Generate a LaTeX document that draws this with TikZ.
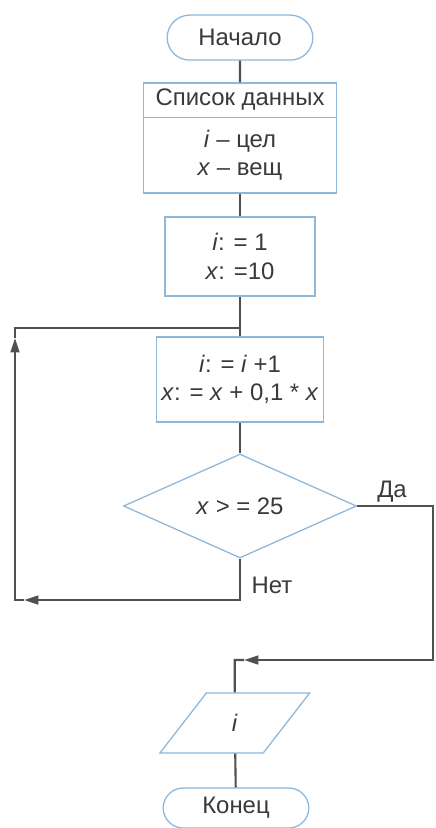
\documentclass[tikz,border=0pt]{standalone}
\usepackage{fontspec}
\setmainfont{Liberation Sans}
\usetikzlibrary{positioning,shapes.geometric,shapes.misc,arrows.meta}
\definecolor{shapeblue}{HTML}{8DB8DC}
\definecolor{linegray}{HTML}{505050}
\definecolor{textgray}{HTML}{3A3A3A}
\tikzset{
  fcterm/.style={draw=shapeblue, line width=0.9pt, rounded rectangle, minimum width=3.875cm, minimum height=1.125cm},
  fcblock/.style={draw=shapeblue, line width=0.9pt, rectangle, align=center},
  fcdecision/.style={draw=shapeblue, line width=0.9pt, diamond, minimum width=5.825cm, minimum height=2.175cm, inner sep=0pt},
  fcio/.style={draw=shapeblue, line width=0.9pt, trapezium, trapezium left angle=65, trapezium right angle=115, trapezium stretches=true, minimum width=3.75cm, minimum height=1.5cm},
  link/.style={draw=linegray, line width=1.5pt},
  linkarrow/.style={link, -{Triangle[length=3.6mm, width=2.2mm, fill=linegray]}}
}

\begin{document}
\begin{tikzpicture}[font=\fontsize{17}{20}\selectfont, text=textgray]
  \useasboundingbox[fill=white] (0,0) rectangle (10.875,-20.7);

  \node[fcterm] (start) at (6.0,-0.94) {Начало};
  \node[fcblock, minimum width=4.825cm, minimum height=2.75cm] (data) at (6.0,-3.45) {};
  \node[minimum height=0.85cm, inner sep=0pt] (datahead) at (6.0,-2.5) {Список данных};
  \node[align=center] (datavars) at (6.0,-3.875) {\textit{i} – цел\\\textit{x} – вещ};
  \draw[draw=shapeblue, line width=0.9pt] (data.west |- datahead.south) -- (data.east |- datahead.south);

  \node[fcblock, minimum width=3.75cm, minimum height=1.975cm] (init) at (6.0,-6.41) {\textit{i}: = 1\\\textit{x}: =10};
  \node[fcblock, minimum width=4.05cm, minimum height=2.125cm] (update) at (6.0,-9.49) {\textit{i}: = \textit{i} +1\\\textit{x}: = \textit{x} + 0,1 * \textit{x}};
  \node[fcdecision] (cond) at (6.0,-12.65) {\textit{x} > = 25};
  \node[fcio] (out) at (5.87,-18.075) {\textit{i}};
  \node[fcterm, minimum height=1.0cm] (finish) at (5.9,-20.2) {Конец};

  % loop back (Нет)
  \coordinate (join) at (6.0,-8.2);
  \coordinate (noturn) at (6.0,-15.0);
  \coordinate (noarrow) at (0.6,-15.0);
  \coordinate (loopbl) at (0.375,-15.0);
  \coordinate (looparrow) at (0.375,-8.45);
  \coordinate (looptl) at (0.375,-8.2);
  % exit (Да)
  \coordinate (yesturn) at (10.825,-12.65);
  \coordinate (yesbr) at (10.825,-16.5);
  \coordinate (yesarrow) at (6.1,-16.5);
  \coordinate (yesbl) at (5.87,-16.5);

  \draw[link] (start) -- (data);
  \draw[link] (data) -- (init);
  \draw[link] (init) -- (update);
  \draw[link] (update) -- (cond);
  \draw[link] (out) -- (finish);

  \draw[linkarrow] (cond.south) -- (noturn) -- (noarrow);
  \draw[linkarrow] (noarrow) -- (loopbl) -- (looparrow);
  \draw[link] (looparrow) -- (looptl) -- (join);
  \draw[linkarrow] (cond.east) -- (yesturn) -- (yesbr) -- (yesarrow);
  \draw[link] (yesarrow) -- (yesbl) -- (out.north);

  \node (yeslabel) at (9.8,-12.3) {Да};
  \node (nolabel) at (6.8,-14.625) {Нет};
\end{tikzpicture}
\end{document}
